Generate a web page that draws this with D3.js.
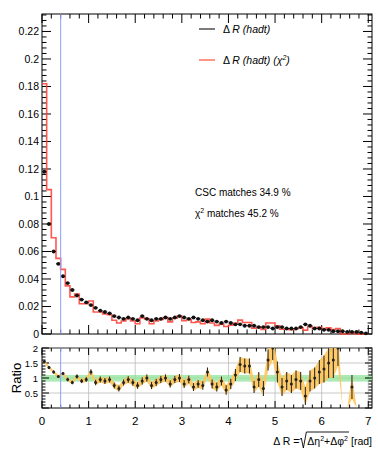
<!DOCTYPE html>
<html>
<head>
<meta charset="utf-8">
<script src="https://cdn.jsdelivr.net/npm/d3@7"></script>
<style>
  body { margin: 0; background: #fff; }
  text { font-family: "Liberation Sans", Arial, sans-serif; }
</style>
</head>
<body>
<div id="chart"></div>
<script>
// 70 bins of 0.1 in Delta R
var binWidth = 0.1;
var csc = [0.118, 0.080, 0.060, 0.051, 0.042, 0.037, 0.032, 0.028, 0.025, 0.023,
  0.021, 0.019, 0.017, 0.016, 0.015, 0.013, 0.012, 0.011, 0.012, 0.011,
  0.010, 0.013, 0.011, 0.010, 0.011, 0.011, 0.012, 0.011, 0.012, 0.013,
  0.012, 0.011, 0.012, 0.011, 0.010, 0.009, 0.010, 0.009, 0.008, 0.009,
  0.008, 0.007, 0.007, 0.006, 0.006, 0.006, 0.005, 0.005, 0.005, 0.004,
  0.005, 0.005, 0.004, 0.004, 0.004, 0.005, 0.007, 0.006, 0.004, 0.004,
  0.003, 0.003, 0.002, 0.002, 0.002, 0.0015, 0.0015, 0.0015, 0.001, 0.0005];
var chi2 = [0.182, 0.105, 0.070, 0.055, 0.047, 0.035, 0.027, 0.029, 0.022, 0.022,
  0.024, 0.016, 0.016, 0.0145, 0.014, 0.010, 0.008, 0.0095, 0.0112, 0.0094,
  0.0075, 0.0117, 0.011, 0.0075, 0.0094, 0.0105, 0.012, 0.0088, 0.0114, 0.013,
  0.0096, 0.0105, 0.0084, 0.0088, 0.0075, 0.0108, 0.008, 0.0063, 0.0072, 0.0054,
  0.0064, 0.0077, 0.0101, 0.0084, 0.0084, 0.0042, 0.0048, 0.0033, 0.008, 0.008,
  0.006, 0.0035, 0.0036, 0.0032, 0.0038, 0.0045, 0.0028, 0.0054, 0.004, 0.0048,
  0.0039, 0.0045, 0.0032, 0.004, 0, 0, 0.001, 0, 0, 0];
var ratio = [1.55, 1.35, 1.2, 1.05, 1.15, 0.95, 0.85, 1.05, 0.9, 0.95,
  1.2, 0.85, 0.95, 0.9, 0.95, 0.75, 0.65, 0.85, 0.95, 0.85,
  0.75, 0.9, 1.0, 0.75, 0.85, 0.95, 1.0, 0.8, 0.95, 1.0,
  0.8, 0.95, 0.7, 0.8, 0.75, 1.2, 0.8, 0.7, 0.9, 0.6,
  0.8, 1.1, 1.45, 1.4, 1.4, 0.7, 0.95, 0.65, 1.6, 2.0,
  1.2, 0.7, 0.9, 0.8, 0.95, 0.9, 0.4, 0.9, 1.0, 1.2,
  1.3, 1.5, 1.6, 2.0, 0, 0, 0.7, 0, 0, 0];
var ratioErr = [0.05, 0.05, 0.05, 0.05, 0.05, 0.06, 0.06, 0.07, 0.07, 0.08,
  0.09, 0.09, 0.1, 0.1, 0.1, 0.1, 0.1, 0.1, 0.11, 0.11,
  0.11, 0.12, 0.12, 0.12, 0.12, 0.12, 0.12, 0.12, 0.12, 0.13,
  0.13, 0.13, 0.13, 0.13, 0.14, 0.15, 0.15, 0.15, 0.15, 0.16,
  0.17, 0.2, 0.25, 0.25, 0.25, 0.2, 0.25, 0.25, 0.35, 0.4,
  0.35, 0.3, 0.3, 0.3, 0.3, 0.3, 0.3, 0.35, 0.35, 0.4,
  0.45, 0.5, 0.6, 0.6, 0, 0, 0.4, 0, 0, 0];
var yTicks = [0, 0.02, 0.04, 0.06, 0.08, 0.1, 0.12, 0.14, 0.16, 0.18, 0.2, 0.22];
var rTicks = [0.5, 1, 1.5, 2];
var xTicks = [0, 1, 2, 3, 4, 5, 6, 7];
var cutValue = 0.4;

var W = 378, H = 456;
var L = 42, R = 372;
var topT = 14, topB = 334, botT = 348, botB = 408;

var svg = d3.select("#chart").append("svg").attr("width", W).attr("height", H);

var x = d3.scaleLinear().domain([0, 7.08]).range([L, R]);
var y = d3.scaleLinear().domain([0, 0.2327]).range([topB, topT]);
var yr = d3.scaleLinear().domain([0, 2]).range([botB, botT]);

var bins = csc.map(function (d, i) {
  return { lo: i * binWidth, hi: (i + 1) * binWidth, c: (i + 0.5) * binWidth,
    csc: d, chi2: chi2[i], r: ratio[i], re: ratioErr[i] };
});

// ---------- upper pad ----------
svg.append("rect").attr("x", L).attr("y", topT).attr("width", R - L).attr("height", topB - topT)
  .attr("fill", "none").attr("stroke", "#000").attr("stroke-width", 1);

// ticks
function minorTicks(lo, hi, step) {
  var out = [];
  for (var v = lo; v <= hi + 1e-9; v += step) out.push(+v.toFixed(6));
  return out;
}
var yMinor = minorTicks(0, 0.232, 0.004);
yMinor.forEach(function (v) {
  var major = Math.abs(v / 0.02 - Math.round(v / 0.02)) < 1e-6;
  var len = major ? 9 : 4.5;
  svg.append("line").attr("x1", L).attr("x2", L + len).attr("y1", y(v)).attr("y2", y(v)).attr("stroke", "#000");
  svg.append("line").attr("x1", R).attr("x2", R - len).attr("y1", y(v)).attr("y2", y(v)).attr("stroke", "#000");
});
var xMinor = minorTicks(0, 7, 0.2);
xMinor.forEach(function (v) {
  var major = Math.abs(v - Math.round(v)) < 1e-6;
  var len = major ? 9 : 4.5;
  svg.append("line").attr("x1", x(v)).attr("x2", x(v)).attr("y1", topB).attr("y2", topB - len).attr("stroke", "#000");
  svg.append("line").attr("x1", x(v)).attr("x2", x(v)).attr("y1", topT).attr("y2", topT + len).attr("stroke", "#000");
});
svg.selectAll(".ylab").data(yTicks).enter().append("text")
  .attr("x", L - 3).attr("y", function (d) { return y(d) + 4; })
  .attr("text-anchor", "end").attr("font-size", 10.5)
  .text(function (d) { return d === 0 ? "0" : String(d); });

// red histogram (step)
var step = [];
bins.forEach(function (b) { step.push([b.lo, b.chi2]); step.push([b.hi, b.chi2]); });
svg.append("path")
  .attr("d", d3.line().x(function (d) { return x(d[0]); }).y(function (d) { return y(d[1]); })(step))
  .attr("fill", "none").attr("stroke", "#ff3b2f").attr("stroke-width", 1.6).attr("stroke-opacity", 0.85);

// black points
svg.selectAll(".hbar").data(bins.filter(function (b) { return b.csc > 0; })).enter().append("line")
  .attr("x1", function (b) { return x(b.lo); }).attr("x2", function (b) { return x(b.hi); })
  .attr("y1", function (b) { return y(b.csc); }).attr("y2", function (b) { return y(b.csc); })
  .attr("stroke", "#111").attr("stroke-width", 1);
svg.selectAll(".pt").data(bins.filter(function (b) { return b.csc > 0; })).enter().append("circle")
  .attr("cx", function (b) { return x(b.c); }).attr("cy", function (b) { return y(b.csc); })
  .attr("r", 1.9).attr("fill", "#111");

// cut line
svg.append("line").attr("x1", x(cutValue)).attr("x2", x(cutValue)).attr("y1", topT).attr("y2", topB)
  .attr("stroke", "#8e9cff").attr("stroke-width", 1);

// legend
var leg = svg.append("g");
leg.append("line").attr("x1", 199).attr("x2", 215).attr("y1", 29).attr("y2", 29).attr("stroke", "#333").attr("stroke-width", 1.3);
leg.append("line").attr("x1", 199).attr("x2", 215).attr("y1", 60).attr("y2", 60).attr("stroke", "#ff5a4a").attr("stroke-width", 1.3);
var t1 = leg.append("text").attr("x", 223).attr("y", 33).attr("font-size", 10.5);
t1.append("tspan").text("Δ ");
t1.append("tspan").attr("font-style", "italic").text("R (hadt)");
var t2 = leg.append("text").attr("x", 223).attr("y", 64).attr("font-size", 10.5);
t2.append("tspan").text("Δ ");
t2.append("tspan").attr("font-style", "italic").text("R (hadt) (χ");
t2.append("tspan").attr("font-size", 7).attr("dy", -4).attr("font-style", "italic").text("2");
t2.append("tspan").attr("dy", 4).attr("font-style", "italic").text(")");

// match text
svg.append("text").attr("x", 195).attr("y", 196).attr("font-size", 10).text("CSC matches 34.9 %");
var m2 = svg.append("text").attr("x", 195).attr("y", 217).attr("font-size", 10);
m2.append("tspan").text("χ");
m2.append("tspan").attr("font-size", 7).attr("dy", -4).text("2");
m2.append("tspan").attr("dy", 4).text(" matches 45.2 %");

// ---------- ratio pad ----------
svg.append("rect").attr("x", L).attr("y", botT).attr("width", R - L).attr("height", botB - botT)
  .attr("fill", "none").attr("stroke", "#000");
// grid
[0.5, 1, 1.5, 2].forEach(function (v) {
  svg.append("line").attr("x1", L).attr("x2", R).attr("y1", yr(v)).attr("y2", yr(v))
    .attr("stroke", "#bbb").attr("stroke-width", 0.8);
});
xTicks.slice(1).forEach(function (v) {
  svg.append("line").attr("x1", x(v)).attr("x2", x(v)).attr("y1", botT).attr("y2", botB)
    .attr("stroke", "#bbb").attr("stroke-width", 0.8);
});
// green band
svg.append("rect").attr("x", L).attr("width", R - L).attr("y", yr(1.1)).attr("height", yr(0.88) - yr(1.1))
  .attr("fill", "#8fe39a").attr("opacity", 0.75);

// ticks ratio pad
minorTicks(0, 2, 0.1).forEach(function (v) {
  var major = Math.abs(v * 2 - Math.round(v * 2)) < 1e-6;
  var len = major ? 7 : 3.5;
  svg.append("line").attr("x1", L).attr("x2", L + len).attr("y1", yr(v)).attr("y2", yr(v)).attr("stroke", "#000");
  svg.append("line").attr("x1", R).attr("x2", R - len).attr("y1", yr(v)).attr("y2", yr(v)).attr("stroke", "#000");
});
xMinor.forEach(function (v) {
  var major = Math.abs(v - Math.round(v)) < 1e-6;
  var len = major ? 7 : 3.5;
  svg.append("line").attr("x1", x(v)).attr("x2", x(v)).attr("y1", botB).attr("y2", botB - len).attr("stroke", "#000");
  svg.append("line").attr("x1", x(v)).attr("x2", x(v)).attr("y1", botT).attr("y2", botT + len).attr("stroke", "#000");
});
svg.selectAll(".rlab").data(rTicks).enter().append("text")
  .attr("x", L - 4).attr("y", function (d) { return yr(d) + 3.5; })
  .attr("text-anchor", "end").attr("font-size", 9.5)
  .text(function (d) { return String(d); });
svg.selectAll(".xlab").data(xTicks).enter().append("text")
  .attr("x", function (d) { return x(d); }).attr("y", 425)
  .attr("text-anchor", "middle").attr("font-size", 11.5)
  .text(function (d) { return String(d); });

// error band
var clip = svg.append("clipPath").attr("id", "rclip").append("rect")
  .attr("x", L).attr("y", botT).attr("width", R - L).attr("height", botB - botT);
var rg = svg.append("g").attr("clip-path", "url(#rclip)");
rg.append("path")
  .attr("d", d3.area()
    .x(function (b) { return x(b.c); })
    .y0(function (b) { return yr(Math.max(0, b.r - b.re)); })
    .y1(function (b) { return yr(b.r + b.re); })(bins))
  .attr("fill", "#ffc45a").attr("opacity", 0.9);
rg.selectAll(".rerr").data(bins.filter(function (b) { return b.r > 0; })).enter().append("line")
  .attr("x1", function (b) { return x(b.c); }).attr("x2", function (b) { return x(b.c); })
  .attr("y1", function (b) { return yr(b.r - b.re); }).attr("y2", function (b) { return yr(b.r + b.re); })
  .attr("stroke", "#222").attr("stroke-width", 1);
rg.selectAll(".rpt").data(bins.filter(function (b) { return b.r > 0; })).enter().append("circle")
  .attr("cx", function (b) { return x(b.c); }).attr("cy", function (b) { return yr(b.r); })
  .attr("r", 1.5).attr("fill", "#222");

svg.append("line").attr("x1", x(cutValue)).attr("x2", x(cutValue)).attr("y1", botT).attr("y2", botB)
  .attr("stroke", "#8e9cff").attr("stroke-width", 1);

// Ratio label
svg.append("text").attr("transform", "translate(21,378) rotate(-90)")
  .attr("text-anchor", "middle").attr("font-size", 13).text("Ratio");

// x title
var xt = svg.append("g");
var part1 = xt.append("text").attr("y", 445).attr("font-size", 10.5).text("Δ R = ");
var rad = xt.append("text").attr("y", 445).attr("font-size", 10.5);
rad.append("tspan").text("Δη");
rad.append("tspan").attr("font-size", 7).attr("dy", -4).text("2");
rad.append("tspan").attr("dy", 4).text("+Δφ");
rad.append("tspan").attr("font-size", 7).attr("dy", -4).text("2");
var unit = xt.append("text").attr("y", 445).attr("font-size", 10.5).text("[rad]");
var w1 = part1.node().getComputedTextLength();
var w2 = rad.node().getComputedTextLength();
var w3 = unit.node().getComputedTextLength();
var sq = 8, gap = 3;
var x0 = R - (w1 + sq + w2 + gap + w3);
part1.attr("x", x0);
var sx = x0 + w1;
xt.append("path")
  .attr("d", "M" + sx + "," + 440 + " L" + (sx + 2) + "," + 438 + " L" + (sx + 4) + "," + 448 +
    " L" + (sx + 7) + "," + 432 + " L" + (sx + sq + w2 + 1) + "," + 432)
  .attr("fill", "none").attr("stroke", "#000").attr("stroke-width", 0.9);
rad.attr("x", sx + sq);
unit.attr("x", sx + sq + w2 + gap);
</script>
</body>
</html>
